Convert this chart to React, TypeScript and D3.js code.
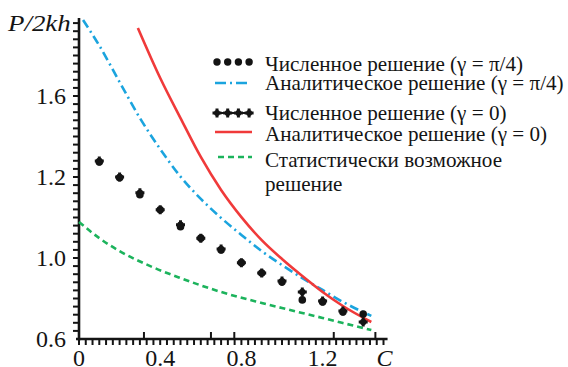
import React, { useEffect, useRef } from 'react'
import * as d3 from 'd3'

const W = 568
const H = 367
const FONT = "'Liberation Serif', 'DejaVu Serif', serif"

// численное решение, шаг по C = 0.1
const numC = [0.1, 0.2, 0.3, 0.4, 0.5, 0.6, 0.7, 0.8, 0.9, 1.0, 1.1, 1.2, 1.3, 1.4]
const numPi4 = [1.274, 1.198, 1.156, 1.119, 1.077, 1.049, 1.02, 0.977, 0.926, 0.881, 0.793, 0.783, 0.733, 0.723]
const numZero = [1.279, 1.2, 1.161, 1.119, 1.082, 1.049, 1.022, 0.977, 0.926, 0.886, 0.832, 0.788, 0.738, 0.684]

// аналитическое решение (gamma = pi/4)
const piC = [0.02, 0.1, 0.2, 0.3, 0.4, 0.5, 0.6, 0.7, 0.8, 0.9, 1.0, 1.1, 1.2, 1.3, 1.44]
const piV = [1.975, 1.849, 1.669, 1.491, 1.338, 1.202, 1.146, 1.099, 1.057, 1.017, 0.965, 0.901, 0.842, 0.783, 0.714]

// аналитическое решение (gamma = 0)
const zeroC = [0.29, 0.4, 0.5, 0.6, 0.7, 0.8, 0.9, 1.0, 1.1, 1.2, 1.3, 1.44]
const zeroV = [1.936, 1.689, 1.491, 1.299, 1.168, 1.101, 1.044, 0.995, 0.911, 0.832, 0.763, 0.684]

// статистически возможное решение
const statC = [0, 0.1, 0.2, 0.36, 0.5, 0.7, 0.9, 1.0, 1.2, 1.3, 1.44]
const statV = [1.089, 1.049, 1.017, 0.956, 0.901, 0.832, 0.778, 0.753, 0.704, 0.679, 0.644]

const xTickValues = [0, 0.4, 0.8, 1.2]
const xTickLabels = ['0', '0.4', '0.8', '1.2']
const xMarks = [0.32, 0.65, 0.765, 1.255, 1.46] // длинные штрихи над осью
const yTickValues = [0.6, 1.0, 1.2, 1.6]
const yTickLabels = ['0.6', '1.0', '1.2', '1.6']

const legendLabels = [
  'Численное решение (γ = π/4)',
  'Аналитическое решение (γ = π/4)',
  'Численное решение (γ = 0)',
  'Аналитическое решение (γ = 0)',
  'Статистически возможное',
  'решение',
]

const BLUE = '#1ba4de'
const RED = '#f03a3a'
const GREEN = '#1cb35c'
const INK = '#141414'

export default function App() {
  const ref = useRef<SVGSVGElement>(null)

  useEffect(() => {
    const svg = d3.select(ref.current)
    svg.selectAll('*').remove()

    const left = 79
    const bottom = 339
    const step = 81 // расстояние между подписями оси y
    const pxPerC = 203
    const xMax = 1.52
    const yMax = 1.985

    const x = d3.scaleLinear().domain([0, xMax]).range([left, left + xMax * pxPerC])
    // подписи оси y стоят на равных расстояниях, шкала кусочно-линейная
    const y = d3.scaleLinear().domain(yTickValues).range(yTickValues.map((_, i) => bottom - i * step))
    const yIdx = d3.scaleLinear().domain([0, 3]).range([bottom, bottom - 3 * step])

    const g = svg.append('g').style('font-family', FONT)

    // оси
    const axes = g.append('g').attr('stroke', INK).attr('fill', 'none')
    axes.append('line')
      .attr('x1', x(0)).attr('x2', x(0))
      .attr('y1', y(0.6) + 1.5).attr('y2', y(yMax))
      .attr('stroke-width', 2.6)
    axes.append('line')
      .attr('x1', x(0) - 3).attr('x2', x(xMax))
      .attr('y1', y(0.6)).attr('y2', y(0.6))
      .attr('stroke-width', 2.6)

    axes.selectAll('.ytick')
      .data(d3.range(1, 40).map(i => i / 10))
      .join('line')
      .attr('x1', x(0) - 6).attr('x2', x(0))
      .attr('y1', d => yIdx(d)).attr('y2', d => yIdx(d))
      .attr('stroke-width', 2)

    axes.selectAll('.xtick')
      .data(d3.range(0, 46).map(i => i / 30))
      .join('line')
      .attr('x1', d => x(d)).attr('x2', d => x(d))
      .attr('y1', y(0.6)).attr('y2', y(0.6) + 6)
      .attr('stroke-width', 2)

    axes.selectAll('.xmark')
      .data(xMarks)
      .join('line')
      .attr('x1', d => x(d)).attr('x2', d => x(d))
      .attr('y1', y(0.6)).attr('y2', y(0.6) - 7)
      .attr('stroke-width', 2)

    // подписи осей
    g.selectAll('.ylab')
      .data(yTickValues)
      .join('text')
      .attr('x', x(0) - 13)
      .attr('y', d => y(d) + 8)
      .attr('text-anchor', 'end')
      .attr('font-size', 24)
      .attr('fill', INK)
      .text((_, i) => yTickLabels[i])

    g.selectAll('.xlab')
      .data(xTickValues)
      .join('text')
      .attr('x', d => x(d))
      .attr('y', y(0.6) + 27)
      .attr('text-anchor', 'middle')
      .attr('font-size', 24)
      .attr('fill', INK)
      .text((_, i) => xTickLabels[i])

    g.append('text')
      .attr('x', x(xMax) - 3).attr('y', y(0.6) + 27)
      .attr('text-anchor', 'middle')
      .attr('font-style', 'italic')
      .attr('font-size', 24).attr('fill', INK)
      .text('C')

    g.append('text')
      .attr('transform', 'translate(8,31) scale(1.12,1)')
      .attr('font-style', 'italic')
      .attr('font-size', 24).attr('fill', INK)
      .text('P/2kh')

    // кривые
    const line = d3.line<[number, number]>()
      .x(d => x(d[0]))
      .y(d => y(d[1]))
      .curve(d3.curveMonotoneX)

    g.append('path')
      .attr('d', line(statC.map((c, i) => [c, statV[i]])))
      .attr('fill', 'none').attr('stroke', GREEN)
      .attr('stroke-width', 2.6).attr('stroke-dasharray', '6,4')

    g.append('path')
      .attr('d', line(piC.map((c, i) => [c, piV[i]])))
      .attr('fill', 'none').attr('stroke', BLUE)
      .attr('stroke-width', 2.6).attr('stroke-dasharray', '9,4,2,4')

    g.append('path')
      .attr('d', line(zeroC.map((c, i) => [c, zeroV[i]])))
      .attr('fill', 'none').attr('stroke', RED)
      .attr('stroke-width', 2.6)

    // точки численного решения
    const cross = d3.symbol().type(d3.symbolCross).size(45)
    g.selectAll('.dotPi')
      .data(numC)
      .join('circle')
      .attr('cx', d => x(d))
      .attr('cy', (_, i) => y(numPi4[i]))
      .attr('r', 3.8)
      .attr('fill', INK)
    const zeroMarks = g.selectAll('.dotZero')
      .data(numC)
      .join('g')
      .attr('transform', (d, i) => `translate(${x(d)},${y(numZero[i])})`)
    zeroMarks.append('circle').attr('r', 3.2).attr('fill', INK)
    zeroMarks.append('path').attr('d', cross()).attr('fill', INK)

    // легенда
    const lx0 = 215
    const lx1 = 251
    const tx = 265
    const baselines = [70.5, 90, 120, 141, 167, 191]
    const centers = [62, 83, 113, 132, 157]
    const leg = g.append('g')
    const samples = d3.range(4).map(i => lx0 + 2 + i * 10.7)

    leg.selectAll('.l0').data(samples).join('circle')
      .attr('cx', d => d).attr('cy', centers[0]).attr('r', 3.7).attr('fill', INK)
    leg.append('line').attr('x1', lx0).attr('x2', lx1).attr('y1', centers[1]).attr('y2', centers[1])
      .attr('stroke', BLUE).attr('stroke-width', 2.6).attr('stroke-dasharray', '11,4,2,4')
    leg.append('line').attr('x1', lx0).attr('x2', lx1 + 1).attr('y1', centers[2]).attr('y2', centers[2])
      .attr('stroke', INK).attr('stroke-width', 2)
    leg.selectAll('.l2').data(samples).join('g')
      .attr('transform', d => `translate(${d},${centers[2]})`)
      .call(s => {
        s.append('circle').attr('r', 3).attr('fill', INK)
        s.append('path').attr('d', cross()).attr('fill', INK)
      })
    leg.append('line').attr('x1', lx0).attr('x2', lx1 + 1).attr('y1', centers[3]).attr('y2', centers[3])
      .attr('stroke', RED).attr('stroke-width', 2.6)
    leg.append('line').attr('x1', lx0 + 3).attr('x2', lx1 + 1).attr('y1', centers[4]).attr('y2', centers[4])
      .attr('stroke', GREEN).attr('stroke-width', 2.6).attr('stroke-dasharray', '6,4')

    leg.selectAll('.ltext').data(legendLabels).join('text')
      .attr('transform', (_, i) => `translate(${tx},${baselines[i]}) scale(0.96,1)`)
      .attr('font-size', 22)
      .attr('fill', INK)
      .text(d => d)
  }, [])

  return (
    <svg ref={ref} width={W} height={H}
      style={{ position: 'absolute', left: 0, top: 0, background: '#fff' }} />
  )
}
